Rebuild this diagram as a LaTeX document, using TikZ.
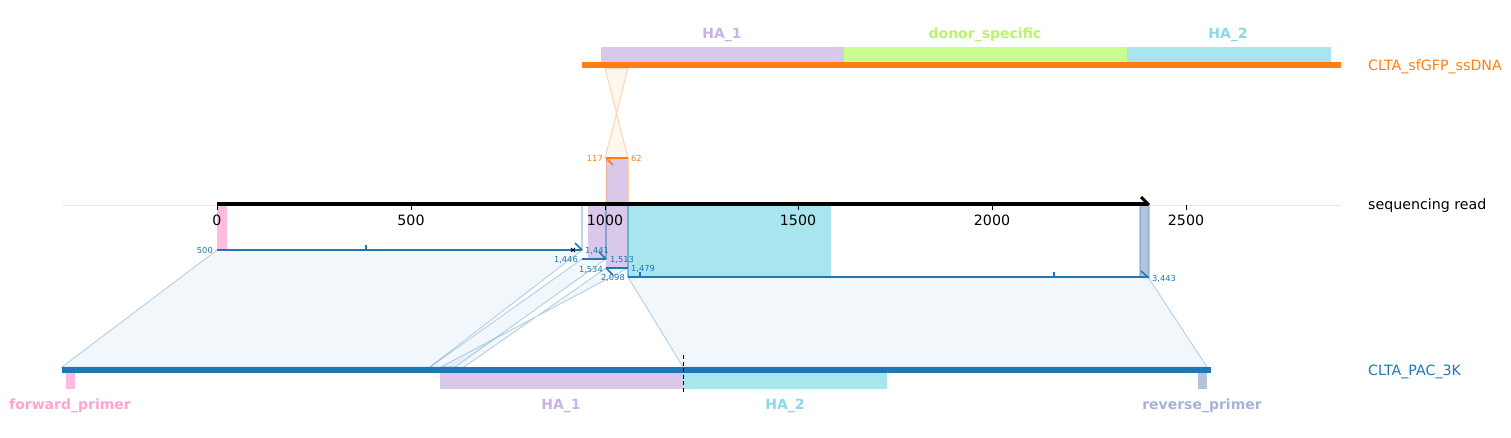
\documentclass[tikz,border=0pt]{standalone}
\usepackage{fontspec}
\setmainfont{DejaVu Sans}
\definecolor{pblue}{HTML}{1F77B4}
\definecolor{porange}{HTML}{FF7F0E}
\definecolor{haone}{HTML}{D9C8EA}
\definecolor{haonet}{HTML}{C8B3E6}
\definecolor{hatwo}{HTML}{A9E5EF}
\definecolor{hatwot}{HTML}{8AD9E8}
\definecolor{donor}{HTML}{C8FF8F}
\definecolor{donort}{HTML}{B6F56C}
\definecolor{fwd}{HTML}{FFBADF}
\definecolor{fwdt}{HTML}{FFA3D3}
\definecolor{rev}{HTML}{B4C2DE}
\definecolor{revt}{HTML}{A3B3D9}
\definecolor{axgray}{HTML}{E6E6E6}
\begin{document}
\begin{tikzpicture}[x=1pt,y=-1pt,
  flabel/.style={font=\fontsize{14}{16}\selectfont\bfseries, inner sep=0},
  tlabel/.style={font=\fontsize{14.2}{16}\selectfont, inner sep=0},
  small/.style={font=\fontsize{8.3}{9}\selectfont, inner sep=0, text=pblue},
  osmall/.style={font=\fontsize{8.3}{9}\selectfont, inner sep=0, text=porange},
  aln/.style={draw=pblue, line width=2pt},
  poly/.style={fill=pblue, fill opacity=0.06, draw=pblue, draw opacity=0.3, line width=1pt},
  opoly/.style={fill=porange, fill opacity=0.07, draw=porange, draw opacity=0.3, line width=1pt},
  edge/.style={draw=pblue, draw opacity=0.45, line width=1.2pt}]
\useasboundingbox (0,0) rectangle (1511,437);

% ---- polygons to bottom reference ----
\fill[poly] (217,250) -- (582,250) -- (430,367) -- (62,367) -- cycle;
\fill[poly] (582,259) -- (606,259) -- (455,367) -- (430,367) -- cycle;
\fill[poly] (606,268) -- (628,268) -- (441,367) -- (464,367) -- cycle;
\fill[poly] (628,277) -- (1148,277) -- (1207,367) -- (683,367) -- cycle;

% ---- orange crossing to donor ----
\fill[opoly] (605,68) -- (628,68) -- (605,158) -- (628,158) -- cycle;

% ---- top reference (donor) ----
\fill[haone] (601,47) rectangle (844,62);
\fill[donor] (844,47) rectangle (1127,62);
\fill[hatwo] (1127,47) rectangle (1331,62);
\draw[porange, line width=6pt] (582,65) -- (1341,65);
\node[flabel, text=haonet, anchor=base] (tha1) at (722,38) {HA\_1};
\node[flabel, text=donort, anchor=base] (tdon) at (985,38) {donor\_specific};
\node[flabel, text=hatwot, anchor=base] (tha2) at (1228,38) {HA\_2};
\node[tlabel, text=porange, anchor=base west] (ldonor) at (1368,70) {CLTA\_sfGFP\_ssDNA};

% ---- donor alignment on read ----
\fill[haone] (606,158) rectangle (628,204);
\draw[porange, draw opacity=0.35, line width=1pt] (606,158) -- (606,204) (628,158) -- (628,204);
\draw[porange, line width=2pt] (606,158) -- (628,158);
\draw[porange, line width=1.5pt] (606,158) -- (613,165);
\node[osmall, anchor=base east] (o117) at (603,161) {117};
\node[osmall, anchor=base west] (o62) at (631,161) {62};

% ---- features projected on read ----
\fill[fwd] (217,205) rectangle (227,250);
\fill[haone] (588,205) rectangle (606,259);
\fill[haone] (606,205) rectangle (628,268);
\fill[hatwo] (628,205) rectangle (831,277);
\fill[rev] (1140,205) rectangle (1149,277);
\draw[edge, draw opacity=0.3] (582,205) -- (582,250);
\draw[edge] (606,205) -- (606,259);
\draw[edge] (628,205) -- (628,277);
\draw[edge, draw opacity=0.3] (1140,205) -- (1140,277) (1149,205) -- (1149,277);

% ---- sequencing read axis ----
\draw[axgray, line width=0.8pt] (62,205) -- (1341,205);
\draw[black, line width=3.5pt] (217,204) -- (1148,204);
\draw[black, line width=3pt] (1149,205) -- (1141,197);
\foreach \x/\l in {217/0,411/500,605/1000,798/1500,992/2000,1186/2500}
  \draw[black, line width=0.8pt] (\x,205) -- (\x,210) node[tlabel, anchor=base, yshift=-15pt] {\l};
\node[tlabel, anchor=base west] (lread) at (1368,209) {sequencing read};

% ---- alignments to bottom reference ----
\draw[aln] (217,250) -- (582,250);
\draw[aln, line width=1.5pt] (582,250) -- (575,243);
\draw[aln, line width=1.5pt] (366,250) -- (366,245);
\draw[black, line width=0.8pt] (571,248) -- (575,252) (571,252) -- (575,248);
\node[small, anchor=base east] (a1s) at (213,253) {500};
\node[small, anchor=base west] (a1e) at (585,253) {1,441};

\draw[aln] (582,259) -- (606,259);
\draw[aln, line width=1.5pt] (606,259) -- (599,252);
\node[small, anchor=base east] (a2s) at (578,262) {1,446};
\node[small, anchor=base west] (a2e) at (610,262) {1,513};

\draw[aln] (606,268) -- (628,268);
\draw[aln, line width=1.5pt] (606,268) -- (613,275);
\node[small, anchor=base east] (a3s) at (603,272) {1,534};
\node[small, anchor=base west] (a3e) at (631,271) {1,479};

\draw[aln] (628,277) -- (1148,277);
\draw[aln, line width=1.5pt] (1149,278) -- (1141,271);
\draw[aln, line width=1.5pt] (640,277) -- (640,272) (1054,277) -- (1054,272);
\node[small, anchor=base east] (a4s) at (625,280) {2,098};
\node[small, anchor=base west] (a4e) at (1152,281) {3,443};

% ---- bottom reference ----
\draw[pblue, line width=6pt] (62,370) -- (1211,370);
\fill[fwd] (66,373) rectangle (75,389);
\fill[haone] (440,373) rectangle (683,389);
\fill[hatwo] (683,373) rectangle (887,389);
\fill[rev] (1198,373) rectangle (1207,389);
\draw[black, line width=1pt, dash pattern=on 4pt off 2.5pt] (683,355) -- (683,394);
\node[flabel, text=fwdt, anchor=base] (bfwd) at (70,409) {forward\_primer};
\node[flabel, text=haonet, anchor=base] (bha1) at (561,409) {HA\_1};
\node[flabel, text=hatwot, anchor=base] (bha2) at (785,409) {HA\_2};
\node[flabel, text=revt, anchor=base] (brev) at (1202,409) {reverse\_primer};
\node[tlabel, text=pblue, anchor=base west] (lref) at (1368,375) {CLTA\_PAC\_3K};
\end{tikzpicture}
\end{document}
